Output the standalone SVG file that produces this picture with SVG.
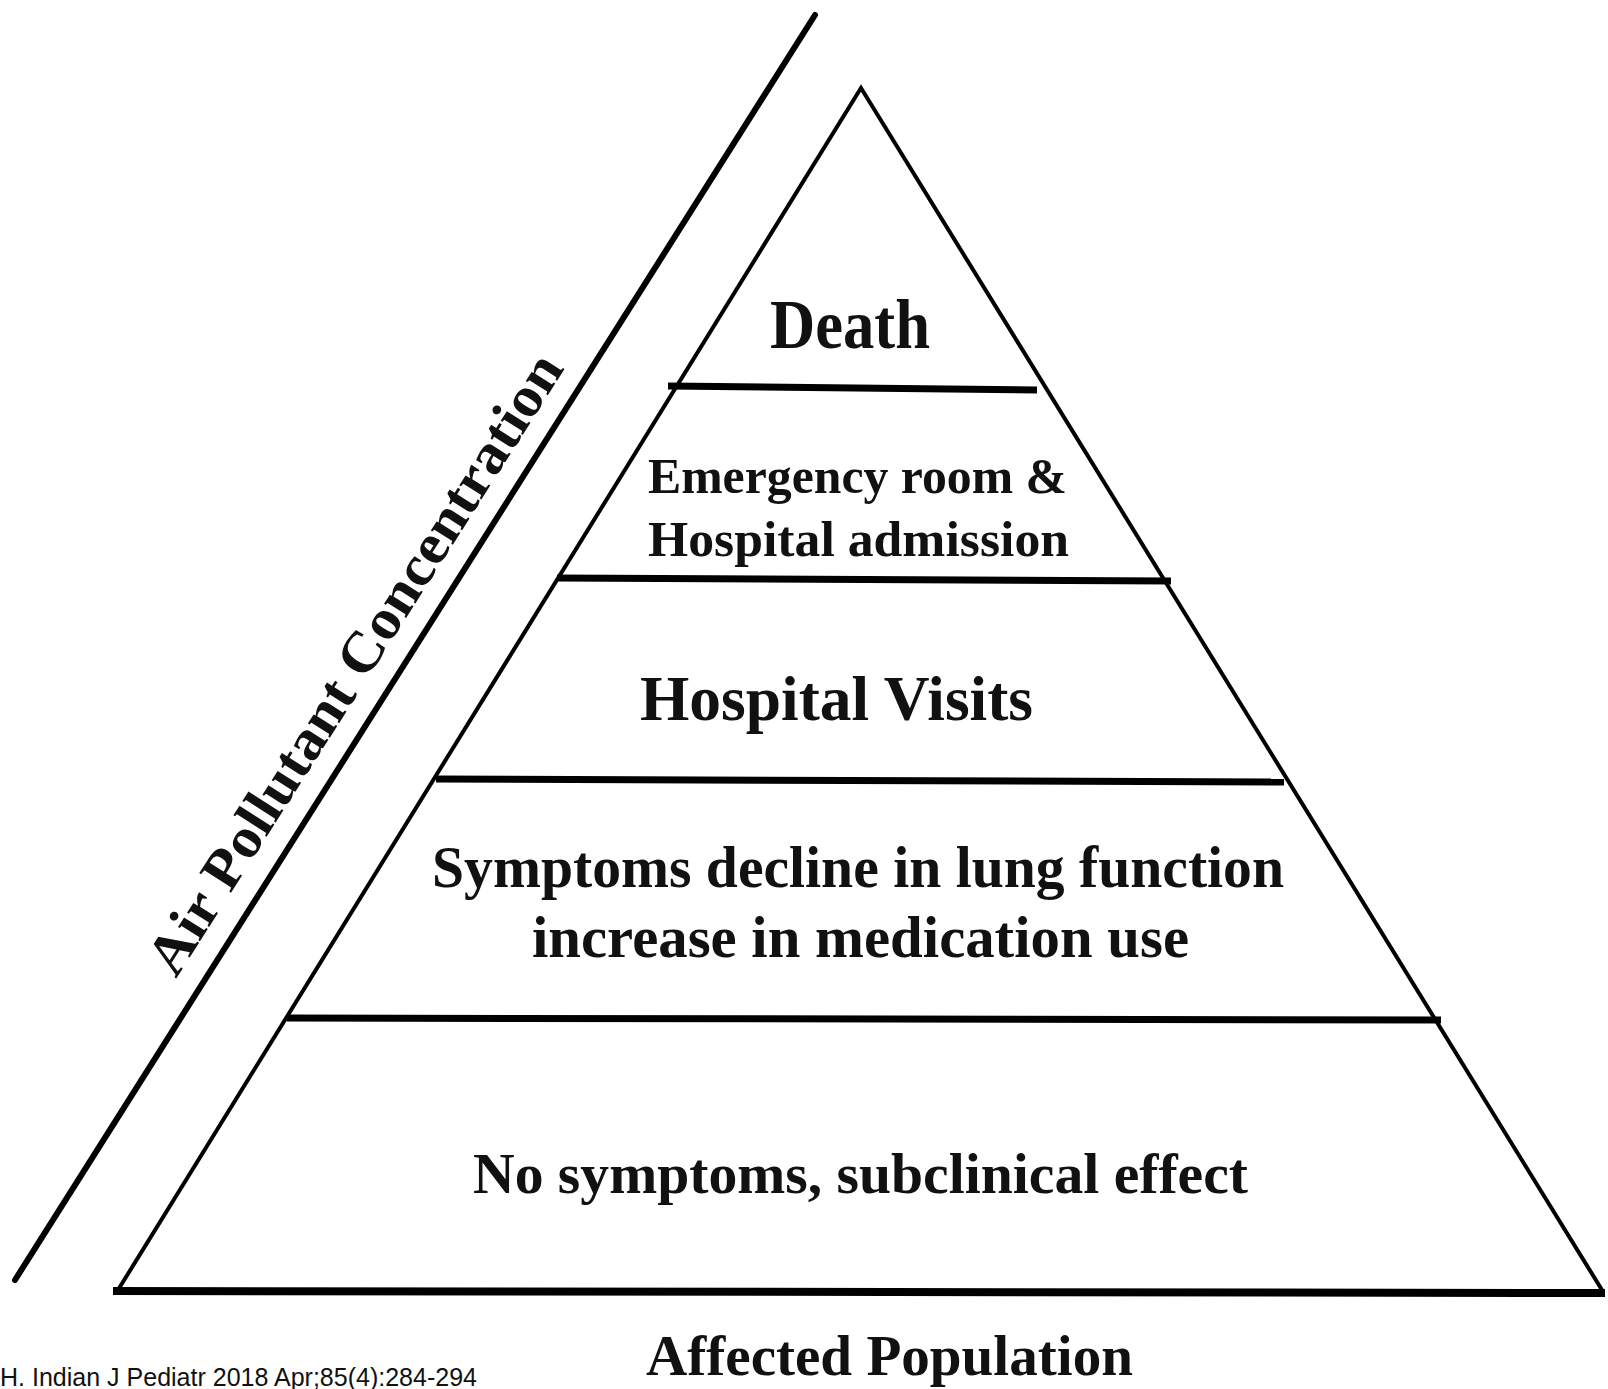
<svg xmlns="http://www.w3.org/2000/svg" width="1608" height="1389" viewBox="0 0 1608 1389">
<style>
.lbl{font-family:"Liberation Serif","Times New Roman",serif;font-weight:bold;fill:#111;text-anchor:start}
.edge{stroke:#000;stroke-width:4;fill:none;stroke-linecap:round}
.tier{stroke:#000;stroke-width:7;fill:none;stroke-linecap:butt}
</style>
<rect width="1608" height="1389" fill="#fff"/>
<g id="axis">
<line x1="815" y1="15" x2="15" y2="1280" stroke="#000" stroke-width="6" stroke-linecap="round"/>
<text class="lbl" font-size="57" transform="translate(176,979) rotate(-57.5)" textLength="724" lengthAdjust="spacingAndGlyphs">Air Pollutant Concentration</text>
</g>
<g id="connectors">
<polyline class="edge" points="118,1290 861,88 1602,1290"/>
<line class="tier" x1="668" y1="386" x2="1037" y2="390"/>
<line class="tier" x1="557" y1="578" x2="1171" y2="581"/>
<line class="tier" x1="436" y1="779" x2="1284" y2="782"/>
<line class="tier" x1="287" y1="1018" x2="1441" y2="1020"/>
<line x1="113" y1="1291" x2="1605" y2="1293" stroke="#000" stroke-width="8"/>
</g>
<g id="death"><text class="lbl" x="770" y="348" font-size="70" textLength="160" lengthAdjust="spacingAndGlyphs">Death</text></g>
<g id="emergency">
<text class="lbl" x="648" y="493" font-size="51" textLength="419" lengthAdjust="spacingAndGlyphs">Emergency room &amp;</text>
<text class="lbl" x="648" y="556" font-size="51" textLength="421" lengthAdjust="spacingAndGlyphs">Hospital admission</text>
</g>
<g id="visits"><text class="lbl" x="640" y="720" font-size="64" textLength="393" lengthAdjust="spacingAndGlyphs">Hospital Visits</text></g>
<g id="symptoms">
<text class="lbl" x="432" y="887" font-size="60" textLength="852" lengthAdjust="spacingAndGlyphs">Symptoms decline in lung function</text>
<text class="lbl" x="532" y="957" font-size="60" textLength="657" lengthAdjust="spacingAndGlyphs">increase in medication use</text>
</g>
<g id="nosymptoms"><text class="lbl" x="473" y="1193" font-size="57" textLength="775" lengthAdjust="spacingAndGlyphs">No symptoms, subclinical effect</text></g>
<g id="population"><text class="lbl" x="646" y="1375" font-size="57" textLength="487" lengthAdjust="spacingAndGlyphs">Affected Population</text></g>
<g id="citation"><text x="0" y="1386" font-family="Liberation Sans, Arial, sans-serif" font-size="25" fill="#111" textLength="477" lengthAdjust="spacingAndGlyphs">H. Indian J Pediatr 2018 Apr;85(4):284-294</text></g>
</svg>
